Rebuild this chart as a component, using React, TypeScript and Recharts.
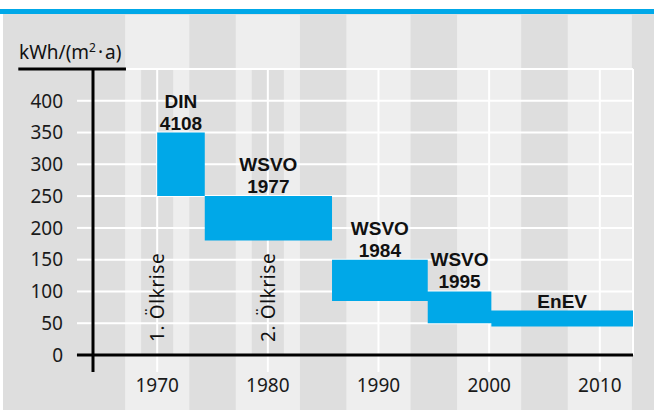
import { Area, CartesianGrid, ComposedChart, ReferenceArea, ReferenceLine, Scatter, XAxis, YAxis } from 'recharts'

// heat demand limits of the German building codes, kWh/(m²·a)
const standards = [['DIN', '4108'], ['WSVO', '1977'], ['WSVO', '1984'], ['WSVO', '1995'], ['EnEV']]
const fromYear = [1970, 1974.3, 1985.8, 1994.45, 2000.2]
const toYear = [1974.3, 1985.8, 1994.45, 2000.2, 2013]
const maxDemand = [350, 250, 150, 100, 70]
const minDemand = [250, 180, 85, 50, 45]

const crises = ['1. Ölkrise', '2. Ölkrise']
const crisisYears = [1970, 1980]

const yearTicks = [1970, 1980, 1990, 2000, 2010]
const demandTicks = [0, 50, 100, 150, 200, 250, 300, 350, 400]

const X_MIN = 1964.2
const X_MAX = 2013
const Y_MAX = 450

const BLUE = '#00a8e8'
const LIGHT = '#eeeeee'
const DARK = '#dedede'
const FONT = '"Noto Sans", "Open Sans", sans-serif'
const BOLD_FONT = '"Liberation Sans", Arial, sans-serif'

const last = fromYear.length - 1
const steps = fromYear.map((year, i) => ({ year, range: [minDemand[i], maxDemand[i]] }))
steps.push({ year: toYear[last], range: [minDemand[last], maxDemand[last]] })

const labelPoints = standards.map((lines, i) => ({
  year: (fromYear[i] + toYear[i]) / 2,
  value: maxDemand[i],
  lines,
}))
const crisisPoints = crises.map((text, i) => ({ year: crisisYears[i], value: 0, text }))

function StandardLabel(props: any) {
  const { cx, cy, payload } = props
  const lines: string[] = payload.lines
  return (
    <g>
      {lines.map((line, i) => (
        <text
          key={line}
          x={cx}
          y={cy - 3 - (lines.length - 1 - i) * 22}
          textAnchor="middle"
          fontFamily={BOLD_FONT}
          fontSize={19}
          fontWeight="bold"
          fill="#111"
        >
          {line}
        </text>
      ))}
    </g>
  )
}

function CrisisLabel(props: any) {
  const { cx, cy, payload } = props
  const x = cx + 7
  const y = cy - 13
  return (
    <text x={x} y={y} transform={`rotate(-90, ${x}, ${y})`} fontFamily={FONT} fontSize={19} fill="#111" letterSpacing={0.6}>
      {payload.text}
    </text>
  )
}

export default function App() {
  return (
    <div style={{ position: 'absolute', left: 0, top: 0, width: 654, height: 410, background: '#fff' }}>
      <div style={{ position: 'absolute', left: 3, right: 0, top: 14, bottom: 0, background: DARK }} />
      <div style={{ position: 'absolute', left: 0, right: 0, top: 9, height: 5, background: BLUE }} />
      <div style={{ position: 'absolute', left: 0, top: 0 }}>
        <ComposedChart width={654} height={410} data={steps} margin={{ top: 69, right: 21, bottom: 15, left: 33 }}>
          {yearTicks.map((t) => (
            <ReferenceArea key={`s${t}`} x1={t - 2.9} x2={Math.min(t + 2.9, X_MAX)} y1={-90} y2={535.5} fill={LIGHT} fillOpacity={1} stroke="none" ifOverflow="visible" zIndex={-300} />
          ))}
          {crisisYears.map((t) => (
            <ReferenceArea key={`c${t}`} x1={t - 1.45} x2={t + 1.45} y1={0} y2={Y_MAX} fill={DARK} fillOpacity={1} stroke="none" ifOverflow="visible" zIndex={-250} />
          ))}
          <CartesianGrid stroke="#fff" strokeWidth={2} zIndex={-200} />
          <XAxis
            dataKey="year"
            type="number"
            domain={[X_MIN, X_MAX]}
            ticks={yearTicks}
            allowDataOverflow
            axisLine={false}
            tickSize={17}
            tickMargin={7}
            tickLine={{ stroke: '#fff', strokeWidth: 2 }}
            tick={{ fontSize: 19, fill: '#1a1a1a', fontFamily: FONT }}
            height={40}
            zIndex={-150}
          />
          <YAxis
            type="number"
            domain={[0, Y_MAX]}
            ticks={demandTicks}
            allowDataOverflow
            axisLine={false}
            tickSize={16}
            tickMargin={14}
            tickLine={{ stroke: '#fff', strokeWidth: 2 }}
            tick={{ fontSize: 19, fill: '#1a1a1a', fontFamily: FONT }}
            width={60}
            zIndex={-150}
          />
          <Area dataKey="range" type="stepAfter" fill={BLUE} fillOpacity={1} stroke="none" isAnimationActive={false} zIndex={100} />
          <ReferenceLine segment={[{ x: 1967.18, y: Y_MAX }, { x: X_MAX, y: Y_MAX }]} stroke="#fff" strokeWidth={2} ifOverflow="visible" zIndex={-120} />
          <ReferenceLine segment={[{ x: 1957.45, y: Y_MAX }, { x: 1967.18, y: Y_MAX }]} stroke="#000" strokeWidth={3} ifOverflow="visible" zIndex={500} />
          <ReferenceLine segment={[{ x: X_MIN, y: -26.7 }, { x: X_MIN, y: Y_MAX }]} stroke="#000" strokeWidth={3} ifOverflow="visible" zIndex={500} />
          <ReferenceLine segment={[{ x: 1962.75, y: 0 }, { x: X_MAX, y: 0 }]} stroke="#000" strokeWidth={3} ifOverflow="visible" zIndex={500} />
          <Scatter data={labelPoints} dataKey="value" shape={StandardLabel} isAnimationActive={false} zIndex={600} />
          <Scatter data={crisisPoints} dataKey="value" shape={CrisisLabel} isAnimationActive={false} zIndex={600} />
        </ComposedChart>
      </div>
      <div style={{ position: 'absolute', left: 19, top: 40, fontFamily: FONT, fontSize: 19, color: '#111', whiteSpace: 'nowrap', lineHeight: '24px' }}>
        kWh/(m<sup style={{ fontSize: 12, verticalAlign: 7, lineHeight: 0 }}>2</sup>
        <span style={{ margin: '0 2px' }}>·</span>a)
      </div>
    </div>
  )
}
